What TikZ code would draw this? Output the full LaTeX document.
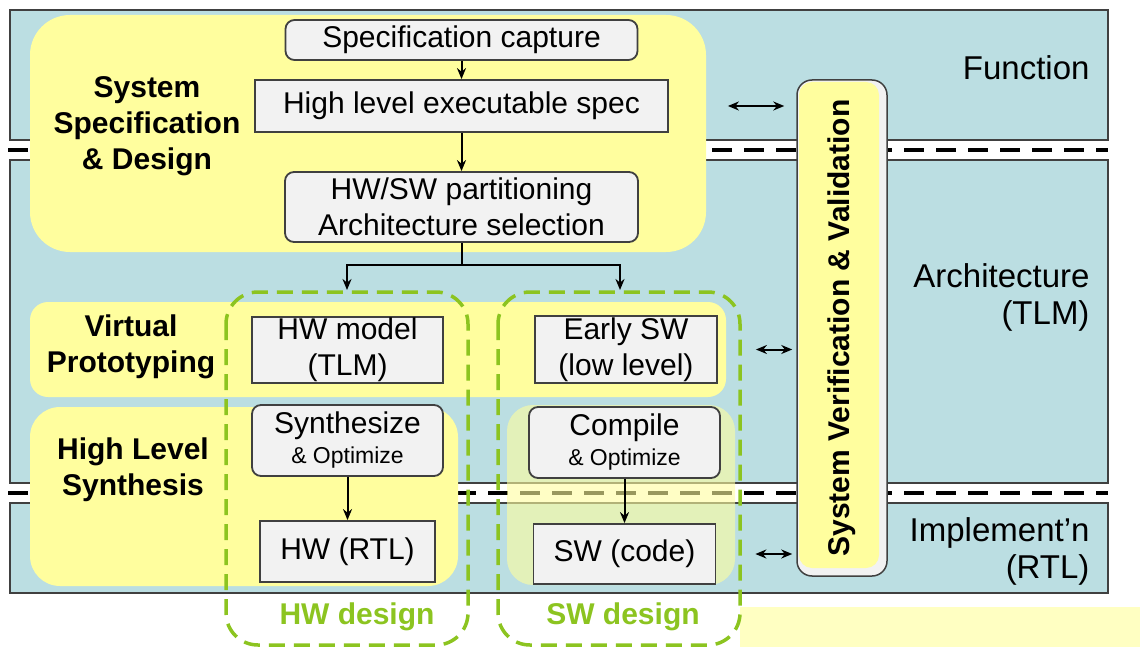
\documentclass[tikz,border=0pt]{standalone}
\usepackage{fontspec}
\setmainfont{Liberation Sans}
\usetikzlibrary{arrows.meta}

\definecolor{bandblue}{RGB}{187,222,226}
\definecolor{zoneyellow}{RGB}{255,254,158}
\definecolor{boxgray}{RGB}{242,242,242}
\definecolor{edgegray}{RGB}{64,64,64}
\definecolor{designgreen}{RGB}{140,196,32}
\definecolor{paleyellow}{RGB}{255,255,194}

\newcommand{\optline}{{\fontsize{23}{26}\selectfont\& Optimize}}

\begin{document}
\begin{tikzpicture}[x=1pt, y=-1pt,
  font=\fontsize{30}{36}\selectfont,
  band/.style={fill=bandblue, draw=edgegray, line width=1.5pt},
  zone/.style={fill=zoneyellow},
  sep/.style={dash pattern=on 20pt off 12pt, line width=4pt},
  stepbox/.style={draw=edgegray, fill=boxgray, line width=1.8pt, inner sep=0pt, align=center},
  roundbox/.style={stepbox, rounded corners=9pt},
  design/.style={draw=designgreen, line width=3.5pt, dash pattern=on 16pt off 9pt, rounded corners=32pt},
  flow/.style={-{Stealth[length=11pt,width=9pt]}, line width=2pt},
  both/.style={{Stealth[length=11pt,width=9pt]}-{Stealth[length=11pt,width=9pt]}, line width=2pt},
  level/.style={anchor=east, align=right, font=\fontsize{33}{37}\selectfont},
  zonelabel/.style={align=center, font=\fontsize{30}{36}\selectfont\bfseries},
  designlabel/.style={text=designgreen, font=\fontsize{30}{36}\selectfont\bfseries}
]
  \useasboundingbox (0,0) rectangle (1140,647);

  % Abstraction level bands
  \fill[paleyellow] (740,607) rectangle (1140,647);
  \draw[band] (10,10) rectangle (1108,140);
  \draw[band] (10,160) rectangle (1108,483);
  \draw[band] (10,503) rectangle (1108,593);
  \draw[sep] (8,150) -- (1108,150);
  \draw[sep] (8,493) -- (1108,493);

  % Design zones
  \fill[zone, rounded corners=40pt] (30,15) rectangle (706,252);
  \fill[zone, rounded corners=18pt] (30,302) rectangle (726,397);
  \fill[zone, rounded corners=30pt] (30,407) rectangle (458,586);
  \fill[zone, rounded corners=26pt, opacity=0.6] (507,405) rectangle (735,585);

  \node[zonelabel] at (147,126) {System\\Specification\\\& Design};
  \node[zonelabel] at (131,347) {Virtual\\Prototyping};
  \node[zonelabel] at (133,470) {High Level\\Synthesis};

  % HW and SW design groups
  \draw[design] (226,292) rectangle (468,645);
  \draw[design] (498,292) rectangle (740,645);
  \node[designlabel] at (357,617) {HW design};
  \node[designlabel] at (623,617) {SW design};

  % Steps
  \node[roundbox, minimum width=352pt, minimum height=40pt] (capture) at (461.5,40) {Specification capture};
  \node[stepbox, minimum width=413pt, minimum height=52pt] (spec) at (461.5,106) {High level executable spec};
  \node[roundbox, minimum width=353pt, minimum height=70pt] (part) at (461.5,207) {HW/SW partitioning\\Architecture selection};

  \node[stepbox, minimum width=191pt, minimum height=66pt] (hwmodel) at (347.5,350) {HW model\\(TLM)};
  \node[roundbox, minimum width=191pt, minimum height=71pt] (synth) at (347.5,440.5) {Synthesize\\[-6pt]\optline};
  \node[stepbox, minimum width=175pt, minimum height=61pt] (hwrtl) at (347.5,551.5) {HW (RTL)};

  \node[stepbox, minimum width=182pt, minimum height=67pt] (earlysw) at (626,349.5) {Early SW\\(low level)};
  \node[roundbox, minimum width=191pt, minimum height=71pt] (compile) at (624.5,442.5) {Compile\\[-6pt]\optline};
  \node[stepbox, minimum width=182pt, minimum height=60pt] (swcode) at (624.5,554) {SW (code)};

  % Flow between steps
  \coordinate (split) at (461.5,265);
  \coordinate (hwin) at (347,290);
  \coordinate (swin) at (620,290);
  \draw[flow] (capture) -- (spec);
  \draw[flow] (spec) -- (part);
  \draw[flow] (part.south) -- (split) -| (hwin);
  \draw[flow] (split) -| (swin);
  \draw[flow] (synth) -- (hwrtl);
  \draw[flow] (compile) -- (swcode);

  % Verification column
  \node[draw=edgegray, fill=boxgray, line width=1.5pt, rounded corners=15pt,
        minimum width=90pt, minimum height=496pt] (ver) at (842,328) {};
  \fill[zone, rounded corners=13pt] (799,82) rectangle (879,568);
  \node[rotate=90, font=\fontsize{30}{36}\selectfont\bfseries] at (ver.center) {System Verification \& Validation};

  \draw[both, shorten <=59pt, shorten >=12pt] (spec.east) -- (spec.east -| ver.west);
  \draw[both, shorten <=38pt, shorten >=4pt] (earlysw.east) -- (earlysw.east -| ver.west);
  \draw[both, shorten <=39pt, shorten >=4pt] (swcode.east) -- (swcode.east -| ver.west);

  % Level names
  \node[level] at (1093,68) {Function};
  \node[level] at (1093,297) {Architecture\\(TLM)};
  \node[level] at (1093,551) {Implement'n\\(RTL)};
\end{tikzpicture}
\end{document}
